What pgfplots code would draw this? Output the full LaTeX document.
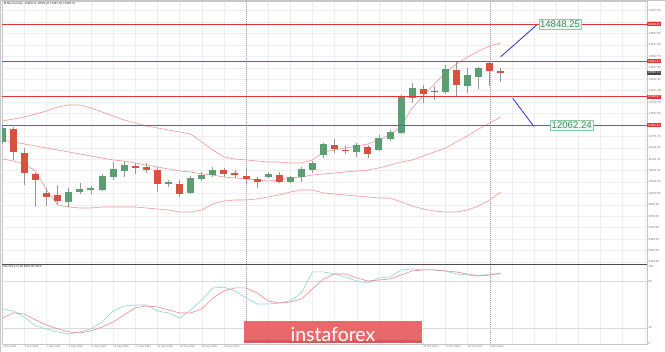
\documentclass[border=0pt]{standalone}
\usepackage{pgfplots}
\pgfplotsset{compat=1.18}
\usepackage{pgfplotstable}
\usepackage{fontspec}
\setmainfont{Liberation Sans}
\newfontfamily\dejavu{DejaVu Sans}
\newfontfamily\wmfont{Lato}
\newcommand\tf{\fontsize{2.9}{3.2}\selectfont}
\newcommand\xf{\fontsize{2.7}{3}\selectfont}

\definecolor{cgreen}{RGB}{92,158,115}
\definecolor{cred}{RGB}{214,82,62}
\definecolor{lvl}{RGB}{228,52,52}
\definecolor{band}{RGB}{240,150,150}
\definecolor{stk}{RGB}{140,212,214}
\definecolor{std}{RGB}{236,138,138}
\definecolor{wick}{RGB}{150,150,150}
\definecolor{annblue}{RGB}{60,60,215}
\definecolor{boxfill}{RGB}{238,247,240}
\definecolor{boxdraw}{RGB}{140,200,160}
\definecolor{boxtext}{RGB}{60,140,95}
\definecolor{wm}{RGB}{231,105,105}
\definecolor{wmdark}{RGB}{214,88,88}
\definecolor{tickc}{RGB}{120,120,120}
\definecolor{curbox}{RGB}{70,70,70}

\tikzset{lvlbox/.style={fill=lvl, text=white, font=\tf, inner sep=0.6pt, anchor=west, minimum height=4pt}}

\pgfplotstableread{
x o h l c
0 11600 12069 11545 11986
6 9944 10330 9806 10220
7 10220 10468 10165 10303
8 10275 10385 10165 10330
9 10275 10717 10247 10661
10 10634 11048 10551 10855
11 10799 11075 10634 10965
15 10441 10551 10358 10496
17 10192 10661 10165 10606
18 10579 10772 10523 10689
19 10689 10910 10634 10827
24 10634 10772 10606 10717
26 10496 10661 10468 10634
27 10634 10910 10496 10855
28 10827 11075 10744 11020
29 11241 11572 11158 11545
32 11324 11572 11186 11517
34 11379 11793 11352 11710
35 11683 11931 11627 11876
36 11848 12897 11821 12842
37 12814 13228 12676 13090
40 12980 13725 12925 13615
42 13145 13642 12952 13449
43 13394 13670 13063 13642
}\greencandles

\pgfplotstableread{
x o h l c
1 11959 12014 11103 11324
2 11296 11434 10413 10744
3 10717 10744 9806 10551
4 10192 10330 9833 10082
5 10137 10413 9889 9971
12 10937 11020 10717 10882
13 10910 11020 10744 10827
14 10827 10910 10220 10441
16 10441 10551 10082 10165
20 10827 10882 10634 10717
21 10744 10827 10606 10675
22 10661 10882 10441 10579
23 10579 10634 10330 10496
25 10689 10772 10468 10496
30 11517 11683 11296 11407
31 11379 11489 11269 11352
33 11462 11517 11158 11269
38 13063 13173 12676 12925
39 13007 13145 12759 12980
41 13587 13808 12842 13173
44 13780 13835 13145 13559
45 13559 13642 13256 13507
}\redcandles

\pgfplotstableread{
x up mid lo
0 12179 11655 11131
1 12235 11600 11075
2 12290 11545 10993
3 12373 11489 10799
4 12455 11434 10275
5 12566 11379 9861
6 12621 11324 9806
7 12621 11269 9778
8 12538 11213 9778
9 12428 11158 9806
10 12317 11103 9806
11 12207 11075 9806
12 12124 11020 9806
13 12041 10965 9778
14 11986 10910 9751
15 11931 10855 9723
16 11876 10799 9668
17 11821 10772 9668
18 11600 10717 9723
19 11379 10689 9889
20 11186 10634 9971
21 11131 10606 9999
22 11103 10579 9999
23 11075 10551 10027
24 11048 10523 10082
25 11048 10551 10137
26 11020 10606 10220
27 11020 10634 10275
28 11103 10689 10275
29 11324 10717 10192
30 11379 10744 10165
31 11434 10772 10137
32 11489 10799 10109
33 11545 10827 10082
34 11655 10882 10054
35 11793 10965 10054
36 12041 11048 9944
37 12538 11103 9833
38 12869 11213 9751
39 13201 11324 9695
40 13504 11434 9668
41 13753 11600 9668
42 13946 11765 9723
43 14111 11959 9833
44 14249 12124 9999
45 14332 12290 10220
}\bands

\pgfplotstableread{
x lvl
-1 13822.21
60 13822.21
-1 nan
-1 14848.25
60 14848.25
-1 nan
-1 12848.97
60 12848.97
-1 nan
-1 12062.24
60 12062.24
}\levels

\pgfplotstableread{
x k d
0 44.6 32.9
1 42.0 39.4
2 34.2 38.1
3 22.5 30.3
4 18.7 23.8
5 14.8 18.7
6 12.2 14.8
7 14.8 13.5
8 18.7 16.1
9 27.7 21.2
10 42.0 27.7
11 48.4 36.8
12 49.7 45.9
13 49.7 48.4
14 42.0 47.2
15 39.4 43.3
16 32.9 39.4
17 43.3 39.4
18 56.2 44.6
19 71.8 58.8
20 72.8 67.9
21 67.9 71.8
22 58.8 71.8
23 51.0 65.3
24 51.0 54.9
25 52.3 52.3
26 54.9 53.6
27 65.3 57.5
28 92.5 70.5
29 92.5 83.4
30 89.9 89.9
31 86.0 89.9
32 80.8 84.7
33 78.2 80.8
34 84.7 82.1
35 86.0 83.4
36 95.1 88.6
37 96.4 93.8
38 95.1 95.1
39 95.1 95.1
40 93.8 93.8
41 89.9 92.5
42 88.6 89.9
43 87.3 87.3
44 89.9 88.6
45 89.9 91.2
}\stoch

\begin{document}
\begin{tikzpicture}
\useasboundingbox (0,0) rectangle (665pt,352pt);
\fill[white] (0,0) rectangle (665pt,352pt);

% ---------------- main price panel ----------------
\begin{axis}[
  at={(2pt,88pt)}, anchor=south west,
  scale only axis, width=645pt, height=263pt,
  xmin=-0.03, xmax=58.2,
  ymin=8232.6, ymax=15491,
  clip mode=individual,
  unbounded coords=jump,
  axis line style={draw=gray!45, line width=0.5pt},
  xtick={0,2,...,58}, xticklabels={},
  ytick={8290.05,8605.20,8920.35,9235.50,9550.65,9865.80,10180.95,10496.10,10811.25,11126.40,11441.55,11756.70,12071.85,12387.00,12702.15,13017.30,13332.45,13647.60,13962.75,14277.90,14593.05,14908.20,15223.35},
  yticklabels={8290.05,8605.20,8920.35,9235.50,9550.65,9865.80,10180.95,10496.10,10811.25,11126.40,11441.55,11756.70,12071.85,12387.00,12702.15,13017.30,13332.45,13647.60,13962.75,14277.90,14593.05,14908.20,15223.35},
  scaled y ticks=false,
  yticklabel pos=right,
  major tick length=0pt,
  xmajorgrids, ymajorgrids,
  major grid style={draw=gray!13, line width=0.4pt},
  yticklabel style={font=\tf, text=tickc, inner sep=0pt, xshift=1.5pt},
]
\addplot[gray!70, line width=0.4pt, dash pattern=on 1pt off 1pt, forget plot] coordinates {(22,8000) (22,16000)};
\addplot[gray!70, line width=0.4pt, dash pattern=on 1pt off 1pt, forget plot] coordinates {(44,8000) (44,16000)};

\addplot[band, line width=0.6pt, mark=none] table[x=x, y=up] {\bands};
\addplot[band, line width=0.6pt, mark=none] table[x=x, y=mid] {\bands};
\addplot[band, line width=0.6pt, mark=none] table[x=x, y=lo] {\bands};

\addplot[wick, line width=0.7pt, mark=none, quiver={u=0, v=\thisrow{h}-\thisrow{l}}] table[x=x, y=l] {\greencandles};
\addplot[wick, line width=0.7pt, mark=none, quiver={u=0, v=\thisrow{h}-\thisrow{l}}] table[x=x, y=l] {\redcandles};
\addplot[cgreen, line width=7pt, mark=none, quiver={u=0, v=\thisrow{c}-\thisrow{o}}] table[x=x, y=o] {\greencandles};
\addplot[cred, line width=7pt, mark=none, quiver={u=0, v=\thisrow{c}-\thisrow{o}}] table[x=x, y=o] {\redcandles};

\addplot[annblue, line width=0.9pt, mark=none] coordinates {(45.0,13954) (48.24,14829)};
\addplot[annblue, line width=0.9pt, mark=none] coordinates {(46.08,12806) (48.0,12022)};

\addplot[draw=lvl, line width=1.2pt, mark=none, solid] table[x=x, y=lvl] {\levels};

\coordinate (LBa) at (axis cs:-0.03,13822.21);
\coordinate (LBb) at (axis cs:58.2,13822.21);

\node[fill=boxfill, draw=boxdraw, line width=0.5pt, text=boxtext, font=\fontsize{9.6}{10}\selectfont, inner sep=1.2pt] at (axis cs:50.35,14848.25) {14848.25};
\node[fill=boxfill, draw=boxdraw, line width=0.5pt, text=boxtext, font=\fontsize{9.6}{10}\selectfont, inner sep=1.2pt] at (axis cs:51.4,12062.24) {12062.24};

\node[lvlbox] at (axis cs:58.2,14848.25) {14848.25};
\node[lvlbox] at (axis cs:58.2,13822.21) {13822.21};
\node[lvlbox] at (axis cs:58.2,12848.97) {12848.97};
\node[lvlbox] at (axis cs:58.2,12062.24) {12062.24};
\node[lvlbox, fill=curbox] at (axis cs:58.2,13507) {13506.75};

\node[anchor=north west, font=\tf, text=black!80, inner sep=0pt] at ([xshift=2pt,yshift=-1.5pt]rel axis cs:0,1) {{\dejavu\fontsize{2.6}{3}\selectfont ▼}\ Bitcoin,Daily\ \ 13809.11 13850.92 13287.29 13506.75};
\end{axis}

% ---------------- stochastic panel ----------------
\begin{axis}[
  at={(2pt,8pt)}, anchor=south west,
  scale only axis, width=645pt, height=80pt,
  xmin=-0.03, xmax=58.2,
  ymin=-0.8, ymax=102.8,
  clip mode=individual,
  axis line style={draw=gray!45, line width=0.5pt},
  xtick={0,2,...,58},
  xticklabels={1 Sep 2020,3 Sep 2020,7 Sep 2020,9 Sep 2020,11 Sep 2020,15 Sep 2020,17 Sep 2020,21 Sep 2020,23 Sep 2020,25 Sep 2020,29 Sep 2020,{},{},{},{},{},{},{},{},23 Oct 2020,27 Oct 2020,29 Oct 2020,2 Nov 2020,{},{},{},{},{},{},{},{}},
  xticklabel style={anchor=north west, font=\xf, text=tickc, inner sep=0pt, yshift=-1.5pt},
  ytick={0,20,80,100}, yticklabels={0,20,80,100},
  yticklabel pos=right,
  yticklabel style={font=\tf, text=tickc, inner sep=0pt, xshift=1.5pt},
  major tick length=0pt,
  xmajorgrids,
  major grid style={draw=gray!13, line width=0.4pt},
]
\addplot[gray!70, line width=0.4pt, dash pattern=on 1pt off 1pt, forget plot] coordinates {(22,-10) (22,110)};
\addplot[gray!70, line width=0.4pt, dash pattern=on 1pt off 1pt, forget plot] coordinates {(44,-10) (44,110)};
\addplot[gray!30, line width=0.4pt, forget plot] coordinates {(-1,80) (60,80)};
\addplot[gray!30, line width=0.4pt, forget plot] coordinates {(-1,20) (60,20)};

\addplot[stk, line width=0.6pt, mark=none] table[x=x, y=k] {\stoch};
\addplot[std, line width=0.6pt, mark=none] table[x=x, y=d] {\stoch};

\draw[gray!60!black, line width=0.8pt] (rel axis cs:0,1) -- (rel axis cs:1,1);
\node[anchor=north west, font=\tf, text=black!80, inner sep=0pt] at ([xshift=1pt,yshift=-1.5pt]rel axis cs:0,1) {Stoch(5,3,3) 89.9904 88.4523};
\end{axis}

% left and top border
\draw[gray!45, line width=1pt] (0.5pt,0) -- (0.5pt,352pt);
\draw[gray!45, line width=0.6pt] (0,351.7pt) -- (665pt,351.7pt);

% level line overdrawn on top
\draw[lvl, line width=1.2pt] (LBa) -- (LBb);

% watermark
\fill[wm] (244pt,9pt) rectangle (422pt,31pt);
\fill[wmdark] (244pt,9pt) rectangle (422pt,12pt);
\node[text=white, font=\wmfont\fontsize{19.5}{20}\selectfont, inner sep=0pt, anchor=base] at (333pt,10.6pt) {instaforex};
\end{tikzpicture}
\end{document}
